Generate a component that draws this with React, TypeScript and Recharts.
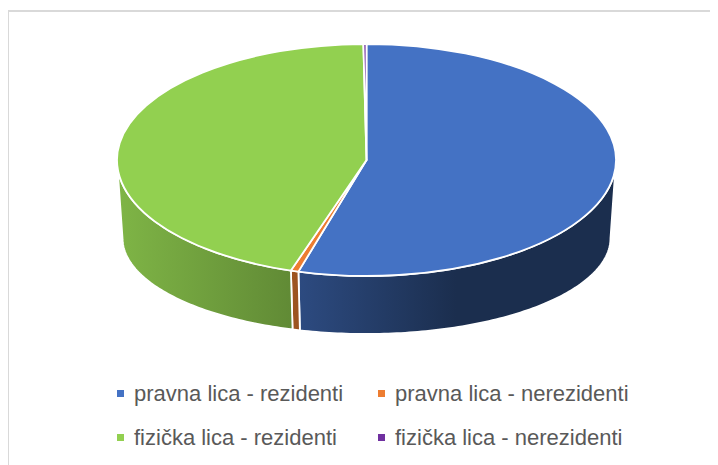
import React from 'react';
import { PieChart, Pie, Cell, Legend } from 'recharts';

const categories = [
  'pravna lica - rezidenti',
  'pravna lica - nerezidenti',
  'fizička lica - rezidenti',
  'fizička lica - nerezidenti',
];
const values = [54.4, 0.5, 44.9, 0.2];
const colors = ['#4472C4', '#ED7D31', '#92D050', '#7030A0'];

const data = categories.map((name, i) => ({ name, value: values[i] }));

const W = 710;
const H = 457;
const CX = 358.5;
const CY = 152;
const RX = 249.5;
const TILT = 116 / 249.5;
const BOT_DY = 78;
const BOT_SX = 244 / 249.5;
const BOT_SY = 96 / 116;
const FONT = '"Liberation Sans", Arial, sans-serif';

const rad = (a: number) => (a * Math.PI) / 180;

function shade(hex: string, f: number) {
  const n = parseInt(hex.slice(1), 16);
  const r = Math.round(((n >> 16) & 255) * f);
  const g = Math.round(((n >> 8) & 255) * f);
  const b = Math.round((n & 255) * f);
  return `rgb(${r},${g},${b})`;
}

function Slice3D(props: any) {
  const { cx, cy, outerRadius, startAngle, endAngle, index } = props;
  const rx = outerRadius;
  const ry = rx * TILT;
  const top = (a: number) => [cx + rx * Math.cos(rad(a)), cy - ry * Math.sin(rad(a))];
  const bot = (a: number) => [
    cx + rx * BOT_SX * Math.cos(rad(a)),
    cy + BOT_DY - ry * BOT_SY * Math.sin(rad(a)),
  ];
  const color = colors[index % colors.length];
  const hi = Math.max(startAngle, endAngle);
  const lo = Math.min(startAngle, endAngle);
  const sHi = Math.min(hi, 0);
  const sLo = Math.max(lo, -180);
  let sidePath = '';
  if (sHi > sLo) {
    const pts: number[][] = [];
    const n = Math.max(2, Math.ceil(sHi - sLo));
    for (let i = 0; i <= n; i++) pts.push(top(sHi - ((sHi - sLo) * i) / n));
    for (let i = n; i >= 0; i--) pts.push(bot(sHi - ((sHi - sLo) * i) / n));
    sidePath = 'M' + pts.map((p) => `${p[0].toFixed(2)},${p[1].toFixed(2)}`).join('L') + 'Z';
  }
  const p1 = top(startAngle);
  const p2 = top(endAngle);
  const large = Math.abs(startAngle - endAngle) > 180 ? 1 : 0;
  const sweep = startAngle > endAngle ? 1 : 0;
  const topPath = `M${cx},${cy}L${p1[0]},${p1[1]}A${rx},${ry} 0 ${large} ${sweep} ${p2[0]},${p2[1]}Z`;
  const gid = `side-grad-${index}`;
  return (
    <g>
      <defs>
        <linearGradient id={gid} gradientUnits="userSpaceOnUse" x1={cx - rx} y1={0} x2={cx + rx} y2={0}>
          <stop offset="0" stopColor={shade(color, 0.87)} />
          <stop offset="0.36" stopColor={shade(color, 0.66)} />
          <stop offset="0.68" stopColor={shade(color, 0.4)} />
          <stop offset="1" stopColor={shade(color, 0.4)} />
        </linearGradient>
      </defs>
      {sidePath && <path d={sidePath} fill={`url(#${gid})`} stroke="#ffffff" strokeWidth={1.8} strokeLinejoin="round" />}
      <path d={topPath} fill={color} stroke="#ffffff" strokeWidth={1.8} strokeLinejoin="round" />
    </g>
  );
}

function LegendContent() {
  const pos = [
    { mx: 109, tx: 126, by: 393 },
    { mx: 370, tx: 387, by: 393 },
    { mx: 109, tx: 126, by: 437 },
    { mx: 370, tx: 387, by: 437 },
  ];
  return (
    <svg width={W} height={H} style={{ display: 'block' }}>
      {categories.map((name, i) => {
        const p = pos[i];
        return (
          <g key={name}>
            <rect x={p.mx} y={p.by - 11} width={7} height={7} fill={colors[i]} />
            <text x={p.tx} y={p.by} fontFamily={FONT} fontSize={22} fill="#595959">
              {name}
            </text>
          </g>
        );
      })}
    </svg>
  );
}

export default function App() {
  return (
    <div style={{ position: 'relative', width: W, height: H, overflow: 'hidden', background: '#ffffff' }}>
      <div
        style={{
          position: 'absolute',
          left: -1,
          top: 2,
          width: 2000,
          height: 2000,
          border: '2px solid #d9d9d9',
        }}
      />
      <div style={{ position: 'absolute', left: 0, top: 0 }}>
        <PieChart width={W} height={H} margin={{ top: 0, right: 0, bottom: 0, left: 0 }}>
          <Pie
            data={data}
            dataKey="value"
            nameKey="name"
            cx={CX}
            cy={CY}
            outerRadius={RX}
            startAngle={90}
            endAngle={-270}
            isAnimationActive={false}
            stroke="none"
            labelLine={false}
            label={Slice3D}
          >
            {data.map((d) => (
              <Cell key={d.name} fill="transparent" stroke="none" />
            ))}
          </Pie>
          <Legend
            content={LegendContent}
            wrapperStyle={{ position: 'absolute', left: 0, top: 0, width: W, height: H, pointerEvents: 'none' }}
          />
        </PieChart>
      </div>
    </div>
  );
}
